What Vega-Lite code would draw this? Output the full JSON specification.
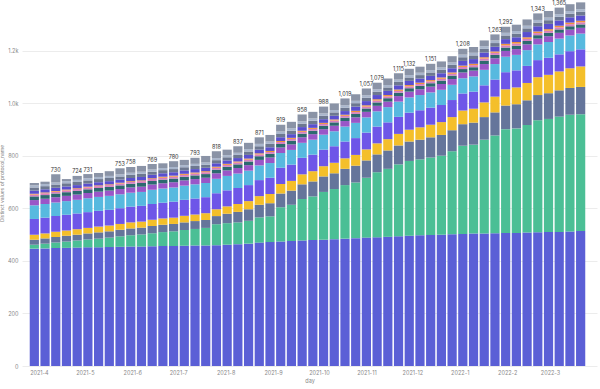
{
  "$schema": "https://vega.github.io/schema/vega-lite/v6.json",
  "width": 575,
  "height": 366,
  "autosize": "none",
  "padding": {"left": 22, "top": 0, "right": 3, "bottom": 23},
  "background": "white",
  "config": {
    "view": {"stroke": null},
    "font": "Inter",
    "axis": {"labelFont": "Inter", "titleFont": "Inter"}
  },
  "datasets": {
    "weeks": [
      {"day": "2021-03-29", "p01": 447, "p02": 15, "p03": 19, "p04": 19, "p05": 60, "p06": 52, "p07": 20, "p08": 14, "p09": 7, "p10": 3, "p11": 12, "p12": 12, "p13": 8, "p14": 9},
      {"day": "2021-04-05", "p01": 448, "p02": 18, "p03": 20, "p04": 19, "p05": 60, "p06": 52, "p07": 20, "p08": 14, "p09": 7, "p10": 3, "p11": 12, "p12": 12, "p13": 8, "p14": 9},
      {"day": "2021-04-12", "p01": 449, "p02": 21, "p03": 21, "p04": 20, "p05": 60, "p06": 52, "p07": 20, "p08": 14, "p09": 7, "p10": 3, "p11": 12, "p12": 12, "p13": 8, "p14": 31},
      {"day": "2021-04-19", "p01": 450, "p02": 24, "p03": 22, "p04": 20, "p05": 60, "p06": 52, "p07": 20, "p08": 14, "p09": 7, "p10": 3, "p11": 12, "p12": 12, "p13": 8, "p14": 8},
      {"day": "2021-04-26", "p01": 451, "p02": 27, "p03": 22, "p04": 21, "p05": 60, "p06": 52, "p07": 20, "p08": 14, "p09": 7, "p10": 3, "p11": 12, "p12": 12, "p13": 8, "p14": 15},
      {"day": "2021-05-03", "p01": 452, "p02": 30, "p03": 23, "p04": 21, "p05": 60, "p06": 53, "p07": 20, "p08": 14, "p09": 7, "p10": 3, "p11": 12, "p12": 12, "p13": 8, "p14": 16},
      {"day": "2021-05-10", "p01": 452, "p02": 33, "p03": 24, "p04": 22, "p05": 60, "p06": 53, "p07": 20, "p08": 14, "p09": 7, "p10": 3, "p11": 12, "p12": 12, "p13": 8, "p14": 15},
      {"day": "2021-05-17", "p01": 453, "p02": 36, "p03": 24, "p04": 22, "p05": 60, "p06": 53, "p07": 20, "p08": 14, "p09": 7, "p10": 3, "p11": 12, "p12": 12, "p13": 8, "p14": 18},
      {"day": "2021-05-24", "p01": 454, "p02": 40, "p03": 25, "p04": 22, "p05": 60, "p06": 53, "p07": 20, "p08": 14, "p09": 7, "p10": 3, "p11": 12, "p12": 12, "p13": 8, "p14": 23},
      {"day": "2021-05-31", "p01": 455, "p02": 43, "p03": 26, "p04": 23, "p05": 60, "p06": 53, "p07": 20, "p08": 14, "p09": 7, "p10": 3, "p11": 12, "p12": 12, "p13": 8, "p14": 22},
      {"day": "2021-06-07", "p01": 455, "p02": 46, "p03": 26, "p04": 23, "p05": 60, "p06": 53, "p07": 20, "p08": 14, "p09": 7, "p10": 3, "p11": 13, "p12": 12, "p13": 8, "p14": 22},
      {"day": "2021-06-14", "p01": 456, "p02": 50, "p03": 27, "p04": 24, "p05": 60, "p06": 54, "p07": 20, "p08": 14, "p09": 7, "p10": 3, "p11": 13, "p12": 12, "p13": 8, "p14": 21},
      {"day": "2021-06-21", "p01": 457, "p02": 53, "p03": 28, "p04": 24, "p05": 60, "p06": 54, "p07": 20, "p08": 14, "p09": 7, "p10": 4, "p11": 13, "p12": 12, "p13": 8, "p14": 18},
      {"day": "2021-06-28", "p01": 457, "p02": 56, "p03": 28, "p04": 24, "p05": 61, "p06": 54, "p07": 20, "p08": 14, "p09": 7, "p10": 4, "p11": 13, "p12": 12, "p13": 8, "p14": 22},
      {"day": "2021-07-05", "p01": 458, "p02": 60, "p03": 29, "p04": 25, "p05": 61, "p06": 54, "p07": 20, "p08": 14, "p09": 7, "p10": 4, "p11": 13, "p12": 12, "p13": 8, "p14": 20},
      {"day": "2021-07-12", "p01": 459, "p02": 63, "p03": 30, "p04": 25, "p05": 61, "p06": 54, "p07": 20, "p08": 14, "p09": 7, "p10": 4, "p11": 13, "p12": 12, "p13": 8, "p14": 23},
      {"day": "2021-07-19", "p01": 459, "p02": 67, "p03": 30, "p04": 26, "p05": 61, "p06": 54, "p07": 20, "p08": 14, "p09": 7, "p10": 4, "p11": 13, "p12": 12, "p13": 8, "p14": 25},
      {"day": "2021-07-26", "p01": 460, "p02": 80, "p03": 31, "p04": 26, "p05": 61, "p06": 55, "p07": 21, "p08": 14, "p09": 7, "p10": 4, "p11": 13, "p12": 12, "p13": 8, "p14": 26},
      {"day": "2021-08-02", "p01": 462, "p02": 82, "p03": 36, "p04": 28, "p05": 61, "p06": 55, "p07": 21, "p08": 14, "p09": 7, "p10": 4, "p11": 13, "p12": 12, "p13": 8, "p14": 21},
      {"day": "2021-08-09", "p01": 464, "p02": 83, "p03": 40, "p04": 30, "p05": 61, "p06": 55, "p07": 21, "p08": 14, "p09": 7, "p10": 4, "p11": 13, "p12": 12, "p13": 8, "p14": 25},
      {"day": "2021-08-16", "p01": 466, "p02": 87, "p03": 44, "p04": 31, "p05": 61, "p06": 55, "p07": 21, "p08": 14, "p09": 7, "p10": 4, "p11": 14, "p12": 13, "p13": 9, "p14": 24},
      {"day": "2021-08-23", "p01": 470, "p02": 96, "p03": 48, "p04": 33, "p05": 61, "p06": 56, "p07": 21, "p08": 14, "p09": 7, "p10": 4, "p11": 14, "p12": 13, "p13": 9, "p14": 25},
      {"day": "2021-08-30", "p01": 472, "p02": 98, "p03": 50, "p04": 35, "p05": 62, "p06": 56, "p07": 21, "p08": 14, "p09": 7, "p10": 4, "p11": 14, "p12": 13, "p13": 9, "p14": 25},
      {"day": "2021-09-06", "p01": 474, "p02": 131, "p03": 52, "p04": 36, "p05": 62, "p06": 56, "p07": 21, "p08": 14, "p09": 7, "p10": 4, "p11": 14, "p12": 13, "p13": 9, "p14": 26},
      {"day": "2021-09-13", "p01": 476, "p02": 138, "p03": 54, "p04": 37, "p05": 62, "p06": 56, "p07": 21, "p08": 14, "p09": 7, "p10": 4, "p11": 14, "p12": 13, "p13": 9, "p14": 25},
      {"day": "2021-09-20", "p01": 478, "p02": 158, "p03": 56, "p04": 38, "p05": 63, "p06": 57, "p07": 21, "p08": 14, "p09": 7, "p10": 4, "p11": 14, "p12": 13, "p13": 9, "p14": 26},
      {"day": "2021-09-27", "p01": 480, "p02": 166, "p03": 57, "p04": 39, "p05": 63, "p06": 57, "p07": 21, "p08": 13, "p09": 7, "p10": 4, "p11": 14, "p12": 13, "p13": 9, "p14": 25},
      {"day": "2021-10-04", "p01": 481, "p02": 182, "p03": 59, "p04": 39, "p05": 63, "p06": 57, "p07": 21, "p08": 13, "p09": 7, "p10": 4, "p11": 14, "p12": 13, "p13": 9, "p14": 26},
      {"day": "2021-10-11", "p01": 483, "p02": 191, "p03": 60, "p04": 40, "p05": 63, "p06": 57, "p07": 21, "p08": 13, "p09": 7, "p10": 4, "p11": 14, "p12": 13, "p13": 9, "p14": 25},
      {"day": "2021-10-18", "p01": 485, "p02": 204, "p03": 62, "p04": 40, "p05": 64, "p06": 57, "p07": 21, "p08": 13, "p09": 7, "p10": 4, "p11": 14, "p12": 13, "p13": 9, "p14": 26},
      {"day": "2021-10-25", "p01": 487, "p02": 212, "p03": 64, "p04": 41, "p05": 64, "p06": 58, "p07": 21, "p08": 13, "p09": 7, "p10": 5, "p11": 16, "p12": 13, "p13": 9, "p14": 25},
      {"day": "2021-11-01", "p01": 489, "p02": 228, "p03": 66, "p04": 42, "p05": 64, "p06": 58, "p07": 21, "p08": 13, "p09": 7, "p10": 5, "p11": 16, "p12": 13, "p13": 9, "p14": 26},
      {"day": "2021-11-08", "p01": 490, "p02": 248, "p03": 68, "p04": 42, "p05": 64, "p06": 58, "p07": 21, "p08": 13, "p09": 7, "p10": 5, "p11": 16, "p12": 13, "p13": 9, "p14": 25},
      {"day": "2021-11-15", "p01": 492, "p02": 259, "p03": 70, "p04": 43, "p05": 64, "p06": 58, "p07": 21, "p08": 13, "p09": 7, "p10": 5, "p11": 16, "p12": 13, "p13": 9, "p14": 25},
      {"day": "2021-11-22", "p01": 494, "p02": 274, "p03": 72, "p04": 44, "p05": 65, "p06": 58, "p07": 21, "p08": 13, "p09": 7, "p10": 5, "p11": 16, "p12": 13, "p13": 9, "p14": 24},
      {"day": "2021-11-29", "p01": 496, "p02": 285, "p03": 74, "p04": 45, "p05": 65, "p06": 58, "p07": 22, "p08": 13, "p09": 7, "p10": 5, "p11": 16, "p12": 13, "p13": 9, "p14": 24},
      {"day": "2021-12-06", "p01": 498, "p02": 289, "p03": 75, "p04": 47, "p05": 65, "p06": 58, "p07": 22, "p08": 13, "p09": 7, "p10": 5, "p11": 16, "p12": 13, "p13": 9, "p14": 23},
      {"day": "2021-12-13", "p01": 499, "p02": 295, "p03": 77, "p04": 48, "p05": 65, "p06": 58, "p07": 22, "p08": 13, "p09": 7, "p10": 5, "p11": 16, "p12": 13, "p13": 9, "p14": 24},
      {"day": "2021-12-20", "p01": 500, "p02": 301, "p03": 79, "p04": 49, "p05": 65, "p06": 58, "p07": 22, "p08": 13, "p09": 7, "p10": 5, "p11": 16, "p12": 13, "p13": 9, "p14": 23},
      {"day": "2021-12-27", "p01": 502, "p02": 316, "p03": 80, "p04": 50, "p05": 65, "p06": 58, "p07": 22, "p08": 13, "p09": 7, "p10": 5, "p11": 16, "p12": 13, "p13": 9, "p14": 24},
      {"day": "2022-01-03", "p01": 503, "p02": 336, "p03": 82, "p04": 52, "p05": 65, "p06": 58, "p07": 22, "p08": 13, "p09": 8, "p10": 5, "p11": 18, "p12": 14, "p13": 10, "p14": 22},
      {"day": "2022-01-10", "p01": 505, "p02": 338, "p03": 84, "p04": 53, "p05": 65, "p06": 58, "p07": 22, "p08": 13, "p09": 8, "p10": 5, "p11": 18, "p12": 14, "p13": 10, "p14": 22},
      {"day": "2022-01-17", "p01": 505, "p02": 357, "p03": 86, "p04": 56, "p05": 65, "p06": 59, "p07": 22, "p08": 13, "p09": 8, "p10": 5, "p11": 18, "p12": 14, "p13": 10, "p14": 22},
      {"day": "2022-01-24", "p01": 506, "p02": 372, "p03": 88, "p04": 60, "p05": 65, "p06": 59, "p07": 22, "p08": 13, "p09": 8, "p10": 5, "p11": 18, "p12": 14, "p13": 10, "p14": 23},
      {"day": "2022-01-31", "p01": 507, "p02": 395, "p03": 90, "p04": 62, "p05": 65, "p06": 59, "p07": 22, "p08": 13, "p09": 8, "p10": 6, "p11": 18, "p12": 14, "p13": 10, "p14": 23},
      {"day": "2022-02-07", "p01": 507, "p02": 398, "p03": 92, "p04": 64, "p05": 65, "p06": 59, "p07": 22, "p08": 13, "p09": 8, "p10": 6, "p11": 18, "p12": 14, "p13": 10, "p14": 24},
      {"day": "2022-02-14", "p01": 508, "p02": 410, "p03": 94, "p04": 66, "p05": 65, "p06": 60, "p07": 22, "p08": 13, "p09": 8, "p10": 6, "p11": 20, "p12": 14, "p13": 10, "p14": 24},
      {"day": "2022-02-21", "p01": 509, "p02": 427, "p03": 96, "p04": 68, "p05": 65, "p06": 60, "p07": 22, "p08": 13, "p09": 8, "p10": 6, "p11": 20, "p12": 14, "p13": 10, "p14": 25},
      {"day": "2022-02-28", "p01": 510, "p02": 431, "p03": 98, "p04": 70, "p05": 65, "p06": 60, "p07": 22, "p08": 13, "p09": 8, "p10": 6, "p11": 20, "p12": 14, "p13": 10, "p14": 25},
      {"day": "2022-03-07", "p01": 510, "p02": 440, "p03": 100, "p04": 72, "p05": 65, "p06": 60, "p07": 22, "p08": 13, "p09": 8, "p10": 6, "p11": 20, "p12": 14, "p13": 10, "p14": 25},
      {"day": "2022-03-14", "p01": 512, "p02": 445, "p03": 102, "p04": 75, "p05": 65, "p06": 60, "p07": 22, "p08": 13, "p09": 8, "p10": 6, "p11": 20, "p12": 14, "p13": 10, "p14": 26},
      {"day": "2022-03-21", "p01": 514, "p02": 445, "p03": 104, "p04": 78, "p05": 65, "p06": 60, "p07": 22, "p08": 13, "p09": 8, "p10": 6, "p11": 20, "p12": 14, "p13": 10, "p14": 26}
    ],
    "labels": [
      {"day": "2021-04-12", "total": 730},
      {"day": "2021-04-26", "total": 724},
      {"day": "2021-05-03", "total": 731},
      {"day": "2021-05-24", "total": 753},
      {"day": "2021-05-31", "total": 758},
      {"day": "2021-06-14", "total": 769},
      {"day": "2021-06-28", "total": 780},
      {"day": "2021-07-12", "total": 793},
      {"day": "2021-07-26", "total": 818},
      {"day": "2021-08-09", "total": 837},
      {"day": "2021-08-23", "total": 871},
      {"day": "2021-09-06", "total": 919},
      {"day": "2021-09-20", "total": 958},
      {"day": "2021-10-04", "total": 988},
      {"day": "2021-10-18", "total": 1019},
      {"day": "2021-11-01", "total": 1057},
      {"day": "2021-11-08", "total": 1079},
      {"day": "2021-11-22", "total": 1115},
      {"day": "2021-11-29", "total": 1132},
      {"day": "2021-12-13", "total": 1151},
      {"day": "2022-01-03", "total": 1208},
      {"day": "2022-01-24", "total": 1263},
      {"day": "2022-01-31", "total": 1292},
      {"day": "2022-02-21", "total": 1343},
      {"day": "2022-03-07", "total": 1365}
    ]
  },
  "layer": [
    {
      "data": {"name": "weeks"},
      "transform": [
        {"fold": ["p01", "p02", "p03", "p04", "p05", "p06", "p07", "p08", "p09", "p10", "p11", "p12", "p13", "p14"], "as": ["protocol_name", "count"]}
      ],
      "mark": {"type": "bar", "width": 9.2},
      "encoding": {
        "x": {
          "field": "day",
          "type": "temporal",
          "scale": {
            "type": "utc",
            "domain": [
              {"year": 2021, "month": 3, "date": 24, "hours": 5, "utc": true},
              {"year": 2022, "month": 3, "date": 28, "hours": 10, "utc": true}
            ]
          },
          "axis": {
            "title": "day",
            "format": "%Y-%-m",
            "tickCount": {"interval": "month", "step": 1},
            "labelFontSize": 5.5,
            "labelColor": "#888888",
            "labelPadding": 4,
            "labelFlush": false,
            "ticks": false,
            "domain": false,
            "grid": false,
            "titleFontSize": 5.5,
            "titleFontWeight": "normal",
            "titleColor": "#888888",
            "titlePadding": 3
          }
        },
        "y": {
          "field": "count",
          "type": "quantitative",
          "stack": "zero",
          "scale": {"domain": [0, 1394], "nice": false},
          "axis": {
            "title": "Distinct values of protocol_name",
            "values": [0, 200, 400, 600, 800, 1000, 1200],
            "labelExpr": "datum.value >= 1000 ? format(datum.value / 1000, '.1f') + 'k' : datum.label",
            "labelFontSize": 5.5,
            "labelColor": "#888888",
            "labelPadding": 4,
            "ticks": false,
            "domain": false,
            "gridColor": "#ececec",
            "titleFontSize": 5,
            "titleFontWeight": "normal",
            "titleColor": "#888888",
            "titlePadding": 3
          }
        },
        "color": {
          "field": "protocol_name",
          "type": "nominal",
          "scale": {
            "domain": ["p01", "p02", "p03", "p04", "p05", "p06", "p07", "p08", "p09", "p10", "p11", "p12", "p13", "p14"],
            "range": ["#5b5fd6", "#4bbf95", "#65759b", "#f4bf2a", "#6e56e8", "#57b9df", "#9a56c8", "#2d6970", "#d77fbf", "#f0923a", "#5a4fcf", "#6d7890", "#a9b6cc", "#8a93a6"]
          },
          "legend": null
        },
        "order": {"field": "protocol_name", "sort": "ascending"}
      }
    },
    {
      "data": {"name": "labels"},
      "mark": {"type": "text", "dy": -1.5, "fontSize": 5.5, "color": "#333333", "baseline": "bottom"},
      "encoding": {
        "x": {"field": "day", "type": "temporal"},
        "y": {"field": "total", "type": "quantitative"},
        "text": {"field": "total", "type": "quantitative", "format": ","}
      }
    }
  ]
}
